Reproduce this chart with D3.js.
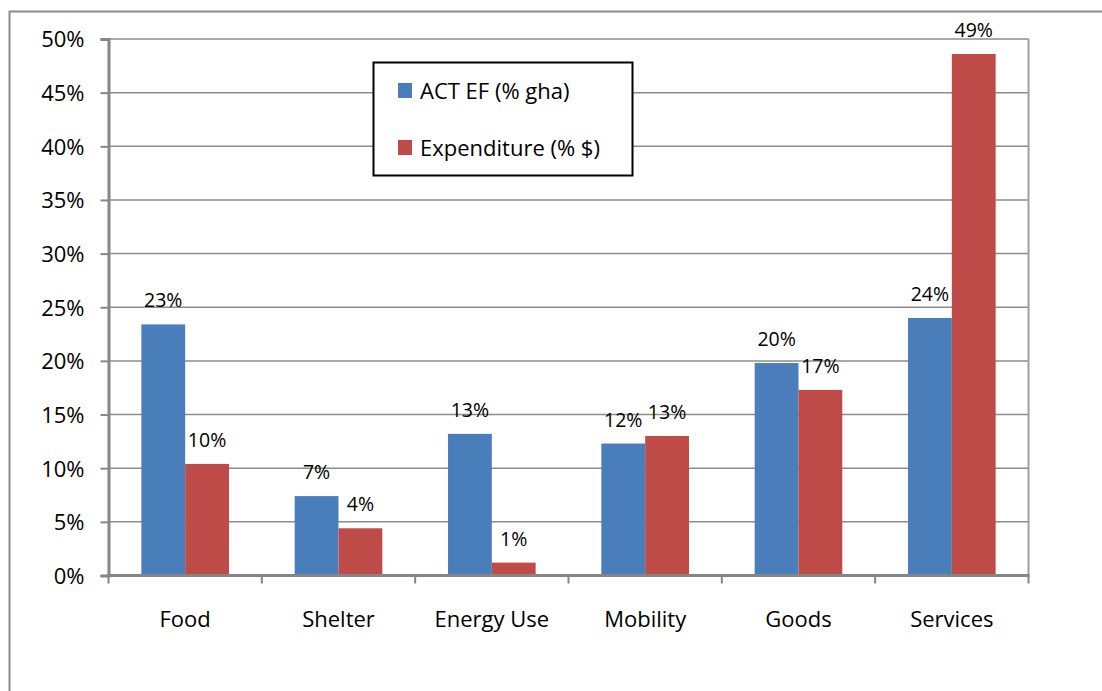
<!DOCTYPE html>
<html lang="en">
<head>
    <meta charset="UTF-8">
    <title>ACT EF vs Expenditure</title>
    <script src="https://d3js.org/d3.v7.min.js"></script>
    <style>
        body { margin: 0; background: white; }
        svg { display: block; }
        .tick-label { font-family: "Open Sans", sans-serif; font-size: 22px; fill: #000; }
        .value-label { font-family: "Open Sans", sans-serif; font-size: 19.5px; fill: #000; text-anchor: middle; }
        .legend-text { font-family: "Open Sans", sans-serif; font-size: 22px; fill: #000; }
    </style>
</head>
<body>
<svg id="chart"></svg>
<script>
    const categories = ["Food", "Shelter", "Energy Use", "Mobility", "Goods", "Services"];
    const seriesNames = ["ACT EF (% gha)", "Expenditure (% $)"];
    const actEF = [0.234, 0.074, 0.132, 0.123, 0.198, 0.240];
    const expenditure = [0.104, 0.044, 0.012, 0.130, 0.173, 0.486];
    const yTicks = [0, 0.05, 0.10, 0.15, 0.20, 0.25, 0.30, 0.35, 0.40, 0.45, 0.50];
    const colors = ["#4a7ebb", "#be4b48"];

    const width = 1102, height = 691;
    const margin = { top: 39, right: 1028.5, bottom: 575.5, left: 108.5 };

    const svg = d3.select("#chart").attr("width", width).attr("height", height);

    // outer frame (runs off the bottom/right of the picture)
    svg.append("rect")
        .attr("x", 9.5).attr("y", 11.5)
        .attr("width", 1200).attr("height", 800)
        .attr("fill", "none").attr("stroke", "#8c8c8c").attr("stroke-width", 2);

    const x0 = d3.scaleBand()
        .domain(categories)
        .range([margin.left, margin.right])
        .paddingInner(3 / 7)
        .paddingOuter(3 / 14);

    const x1 = d3.scaleBand()
        .domain(seriesNames)
        .range([0, x0.bandwidth()]);

    const y = d3.scaleLinear()
        .domain([0, 0.5])
        .range([margin.bottom, margin.top]);

    // gridlines
    svg.append("g")
        .selectAll("line")
        .data(yTicks.slice(1))
        .enter().append("line")
        .attr("x1", margin.left).attr("x2", margin.right)
        .attr("y1", d => y(d)).attr("y2", d => y(d))
        .attr("stroke", "#8c8c8c").attr("stroke-width", 1.5);

    // right edge of plot
    svg.append("line")
        .attr("x1", margin.right).attr("x2", margin.right)
        .attr("y1", margin.top).attr("y2", margin.bottom)
        .attr("stroke", "#a0a0a0").attr("stroke-width", 2);

    // y axis
    const yAxis = d3.axisLeft(y)
        .tickValues(yTicks)
        .tickSize(8)
        .tickPadding(16)
        .tickFormat(d3.format(".0%"));

    const gy = svg.append("g")
        .attr("transform", `translate(${margin.left},0)`)
        .call(yAxis);
    gy.select(".domain").attr("stroke", "#868686").attr("stroke-width", 3);
    gy.selectAll(".tick line").attr("stroke", "#868686").attr("stroke-width", 2);
    gy.selectAll(".tick text").attr("class", "tick-label").attr("dy", "0.36em");

    // bars
    const table = categories.map((c, i) => ({ category: c, values: [actEF[i], expenditure[i]] }));

    const groups = svg.append("g")
        .selectAll("g")
        .data(table)
        .enter().append("g")
        .attr("transform", d => `translate(${x0(d.category)},0)`);

    groups.selectAll("rect")
        .data(d => d.values.map((v, j) => ({ name: seriesNames[j], value: v, j: j })))
        .enter().append("rect")
        .attr("x", d => x1(d.name))
        .attr("y", d => y(d.value))
        .attr("width", x1.bandwidth())
        .attr("height", d => y(0) - y(d.value))
        .attr("fill", d => colors[d.j]);

    groups.selectAll("text")
        .data(d => d.values.map((v, j) => ({ name: seriesNames[j], value: v })))
        .enter().append("text")
        .attr("class", "value-label")
        .attr("x", d => x1(d.name) + x1.bandwidth() / 2)
        .attr("y", d => y(d.value) - 17)
        .text(d => d3.format(".0%")(d.value));

    // x axis
    const gap = (x0.step() - x0.bandwidth()) / 2;
    const boundaries = categories.map(c => x0(c) - gap).concat([margin.right]);

    svg.append("line")
        .attr("x1", margin.left - 1.5).attr("x2", margin.right + 1)
        .attr("y1", y(0)).attr("y2", y(0))
        .attr("stroke", "#868686").attr("stroke-width", 3);

    svg.append("g")
        .selectAll("line")
        .data(boundaries)
        .enter().append("line")
        .attr("x1", d => d).attr("x2", d => d)
        .attr("y1", y(0)).attr("y2", y(0) + 8)
        .attr("stroke", "#868686").attr("stroke-width", 2);

    svg.append("g")
        .selectAll("text")
        .data(categories)
        .enter().append("text")
        .attr("class", "tick-label")
        .attr("text-anchor", "middle")
        .attr("x", d => x0(d) + x0.bandwidth() / 2)
        .attr("y", 627)
        .text(d => d);

    // legend
    const legend = svg.append("g");
    legend.append("rect")
        .attr("x", 373.5).attr("y", 62.5)
        .attr("width", 259).attr("height", 113)
        .attr("fill", "white").attr("stroke", "#000").attr("stroke-width", 2);

    const legendY = [83, 140];
    seriesNames.forEach((name, i) => {
        legend.append("rect")
            .attr("x", 398).attr("y", legendY[i])
            .attr("width", 14).attr("height", 15)
            .attr("fill", colors[i]);
        legend.append("text")
            .attr("class", "legend-text")
            .attr("x", 420).attr("y", legendY[i] + 16)
            .text(name);
    });
</script>
</body>
</html>
